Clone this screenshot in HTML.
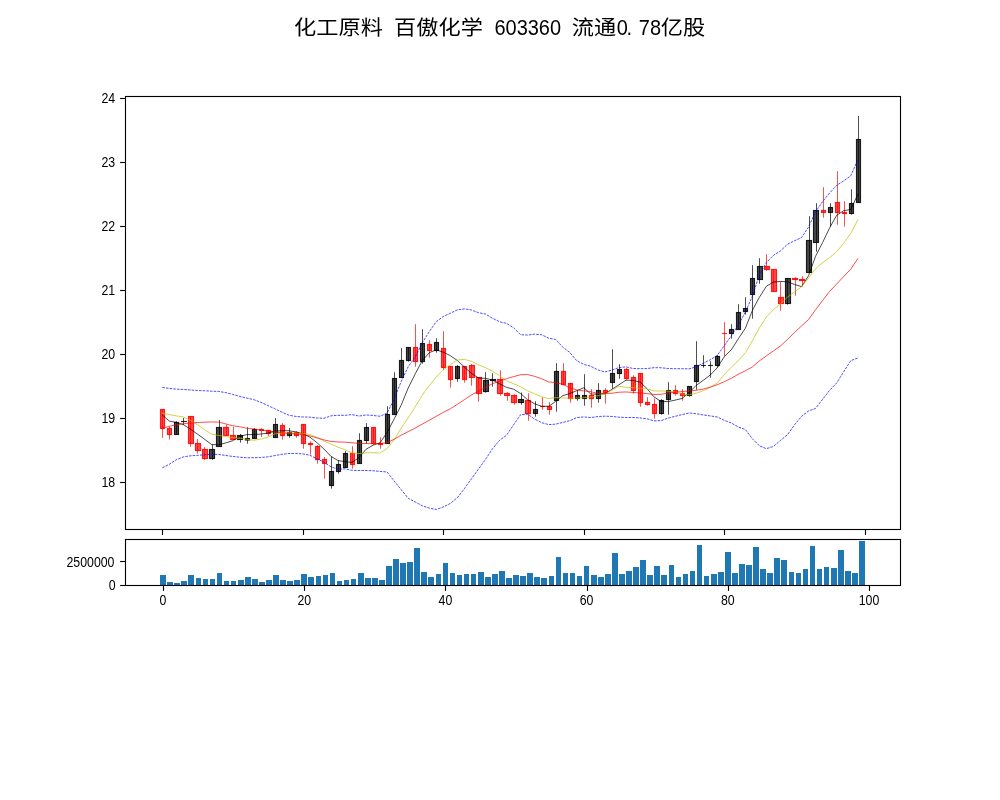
<!DOCTYPE html>
<html lang="zh"><head><meta charset="utf-8"><title>化工原料 百傲化学 603360</title>
<style>html,body{margin:0;padding:0;background:#fff}svg{display:block}text{font-family:"Liberation Sans","Noto Sans CJK SC",sans-serif;fill:#000}.t{font-size:22.2px}.l{font-size:13.89px}</style></head><body>
<svg width="1000" height="800" viewBox="0 0 1000 800">
<rect width="1000" height="800" fill="#fff"/>
<g class="t">
<text x="294.47 316.69 338.91 361.12" y="35.3" transform="translate(-0.4 37) scale(1 0.92) translate(0 -37)">化工原料</text>
<text x="394.46 416.68 438.9 461.12" y="35.3" transform="translate(-0.4 37) scale(1 0.92) translate(0 -37)">百傲化学</text>
<text x="555.56 567.9 580.24 592.59 604.93 617.28" y="35.3" text-anchor="middle" transform="scale(0.9 1)">603360</text>
<text x="572.22 594.44" y="35.3" transform="translate(-0.4 37) scale(1 0.92) translate(0 -37)">流通</text>
<text x="691.34 699.24 716.03 728.38" y="35.3" text-anchor="middle" transform="scale(0.9 1)">0.78</text>
<text x="661.1 683.32" y="35.3" transform="translate(-0.4 37) scale(1 0.92) translate(0 -37)">亿股</text>
</g>
<g stroke-width="1.15" fill-opacity="0.72" stroke-opacity="0.85">
<rect x="160.5" y="409.5" width="4" height="19" fill="#f00" stroke="#f00"/>
<rect x="167.5" y="428.5" width="4" height="6" fill="#f00" stroke="#f00"/>
<rect x="174.5" y="422.5" width="4" height="12" fill="#000" stroke="#000"/>
<line x1="181.05" x2="186.95" y1="421.5" y2="421.5" stroke="#000"/>
<rect x="188.5" y="416.5" width="5" height="27" fill="#f00" stroke="#f00"/>
<rect x="195.5" y="443.5" width="5" height="7" fill="#f00" stroke="#f00"/>
<rect x="202.5" y="449.5" width="5" height="9" fill="#f00" stroke="#f00"/>
<rect x="209.5" y="449.5" width="5" height="9" fill="#000" stroke="#000"/>
<rect x="216.5" y="427.5" width="5" height="19" fill="#000" stroke="#000"/>
<rect x="223.5" y="427.5" width="5" height="8" fill="#f00" stroke="#f00"/>
<rect x="230.5" y="435.5" width="5" height="4" fill="#f00" stroke="#f00"/>
<rect x="237.5" y="435.5" width="5" height="4" fill="#000" stroke="#000"/>
<rect x="245.5" y="438.5" width="4" height="1.5" fill="#000" stroke="#000"/>
<rect x="252.5" y="429.5" width="4" height="9" fill="#000" stroke="#000"/>
<rect x="259.5" y="429.5" width="4" height="1" fill="#f00" stroke="#f00"/>
<rect x="266.5" y="430.5" width="4" height="3" fill="#f00" stroke="#f00"/>
<rect x="273.5" y="424.5" width="4" height="13" fill="#000" stroke="#000"/>
<rect x="280.5" y="425.5" width="4" height="10" fill="#f00" stroke="#f00"/>
<rect x="287.5" y="432.5" width="4" height="3" fill="#000" stroke="#000"/>
<rect x="294.5" y="432.5" width="4" height="3" fill="#f00" stroke="#f00"/>
<rect x="301.5" y="424.5" width="4" height="19" fill="#f00" stroke="#f00"/>
<rect x="308.5" y="443.5" width="4" height="1" fill="#f00" stroke="#f00"/>
<rect x="315.5" y="446.5" width="4" height="13" fill="#f00" stroke="#f00"/>
<rect x="322.5" y="459.5" width="4" height="4" fill="#f00" stroke="#f00"/>
<rect x="329.5" y="471.5" width="4" height="14" fill="#000" stroke="#000"/>
<rect x="336.5" y="464.5" width="4" height="7" fill="#000" stroke="#000"/>
<rect x="343.5" y="453.5" width="4" height="14" fill="#000" stroke="#000"/>
<rect x="350.5" y="453.5" width="4" height="11" fill="#f00" stroke="#f00"/>
<rect x="357.5" y="440.5" width="4" height="23" fill="#000" stroke="#000"/>
<rect x="364.5" y="427.5" width="4" height="13" fill="#000" stroke="#000"/>
<rect x="371.5" y="427.5" width="4" height="16" fill="#f00" stroke="#f00"/>
<rect x="378.5" y="443.5" width="4" height="1" fill="#f00" stroke="#f00"/>
<rect x="385.5" y="414.5" width="4" height="29" fill="#000" stroke="#000"/>
<rect x="392.5" y="378.5" width="4" height="36" fill="#000" stroke="#000"/>
<rect x="399.5" y="360.5" width="4" height="17" fill="#000" stroke="#000"/>
<rect x="406.5" y="347.5" width="4" height="13" fill="#000" stroke="#000"/>
<rect x="413.5" y="347.5" width="4" height="14" fill="#f00" stroke="#f00"/>
<rect x="420.5" y="343.5" width="4" height="18" fill="#000" stroke="#000"/>
<rect x="427.5" y="344.5" width="4" height="6" fill="#f00" stroke="#f00"/>
<rect x="434.5" y="342.5" width="4" height="8" fill="#000" stroke="#000"/>
<rect x="441.5" y="348.5" width="4" height="19" fill="#f00" stroke="#f00"/>
<rect x="448.5" y="366.5" width="4" height="13" fill="#f00" stroke="#f00"/>
<rect x="455.5" y="366.5" width="4" height="12" fill="#000" stroke="#000"/>
<rect x="462.5" y="366.5" width="4" height="13" fill="#f00" stroke="#f00"/>
<rect x="469.5" y="365.5" width="5" height="12" fill="#f00" stroke="#f00"/>
<rect x="476.5" y="377.5" width="5" height="16" fill="#f00" stroke="#f00"/>
<rect x="483.5" y="380.5" width="5" height="11" fill="#000" stroke="#000"/>
<rect x="490.5" y="379.5" width="5" height="1" fill="#000" stroke="#000"/>
<rect x="497.5" y="379.5" width="5" height="14" fill="#f00" stroke="#f00"/>
<rect x="504.5" y="393.5" width="5" height="2" fill="#f00" stroke="#f00"/>
<rect x="511.5" y="395.5" width="5" height="7" fill="#f00" stroke="#f00"/>
<rect x="518.5" y="399.5" width="5" height="3" fill="#000" stroke="#000"/>
<rect x="525.5" y="400.5" width="5" height="13" fill="#f00" stroke="#f00"/>
<rect x="533.5" y="409.5" width="4" height="4" fill="#000" stroke="#000"/>
<line x1="540.05" x2="544.95" y1="406.5" y2="406.5" stroke="#f00"/>
<rect x="547.5" y="406.5" width="4" height="3" fill="#f00" stroke="#f00"/>
<rect x="554.5" y="371.5" width="4" height="29" fill="#000" stroke="#000"/>
<rect x="561.5" y="371.5" width="4" height="13" fill="#f00" stroke="#f00"/>
<rect x="568.5" y="383.5" width="4" height="15" fill="#f00" stroke="#f00"/>
<rect x="575.5" y="395.5" width="4" height="3" fill="#000" stroke="#000"/>
<rect x="582.5" y="395.5" width="4" height="3" fill="#000" stroke="#000"/>
<rect x="589.5" y="395.5" width="4" height="3" fill="#f00" stroke="#f00"/>
<rect x="596.5" y="390.5" width="4" height="8" fill="#000" stroke="#000"/>
<rect x="603.5" y="390.5" width="4" height="2" fill="#f00" stroke="#f00"/>
<rect x="610.5" y="373.5" width="4" height="9" fill="#000" stroke="#000"/>
<rect x="617.5" y="369.5" width="4" height="4" fill="#000" stroke="#000"/>
<rect x="624.5" y="369.5" width="4" height="9" fill="#f00" stroke="#f00"/>
<rect x="631.5" y="377.5" width="4" height="13" fill="#f00" stroke="#f00"/>
<rect x="638.5" y="373.5" width="4" height="29" fill="#f00" stroke="#f00"/>
<rect x="645.5" y="402.5" width="4" height="2" fill="#f00" stroke="#f00"/>
<rect x="652.5" y="404.5" width="4" height="9" fill="#f00" stroke="#f00"/>
<rect x="659.5" y="400.5" width="4" height="13" fill="#000" stroke="#000"/>
<rect x="666.5" y="390.5" width="4" height="9" fill="#000" stroke="#000"/>
<rect x="673.5" y="390.5" width="4" height="3" fill="#f00" stroke="#f00"/>
<rect x="680.5" y="393.5" width="4" height="2" fill="#f00" stroke="#f00"/>
<rect x="687.5" y="386.5" width="4" height="9" fill="#000" stroke="#000"/>
<rect x="694.5" y="365.5" width="4" height="16" fill="#000" stroke="#000"/>
<line x1="701.05" x2="705.95" y1="365.5" y2="365.5" stroke="#000"/>
<line x1="708.05" x2="712.95" y1="365.5" y2="365.5" stroke="#000"/>
<rect x="715.5" y="356.5" width="4" height="9" fill="#000" stroke="#000"/>
<line x1="722.05" x2="726.95" y1="333.5" y2="333.5" stroke="#f00"/>
<rect x="729.5" y="329.5" width="4" height="4" fill="#000" stroke="#000"/>
<rect x="736.5" y="312.5" width="4" height="17" fill="#000" stroke="#000"/>
<rect x="743.5" y="308.5" width="4" height="3" fill="#000" stroke="#000"/>
<rect x="750.5" y="278.5" width="4" height="16" fill="#000" stroke="#000"/>
<rect x="757.5" y="266.5" width="5" height="13" fill="#000" stroke="#000"/>
<rect x="764.5" y="266.5" width="5" height="3" fill="#f00" stroke="#f00"/>
<rect x="771.5" y="269.5" width="5" height="22" fill="#f00" stroke="#f00"/>
<rect x="778.5" y="297.5" width="5" height="6" fill="#f00" stroke="#f00"/>
<rect x="785.5" y="278.5" width="5" height="25" fill="#000" stroke="#000"/>
<rect x="792.5" y="278.5" width="5" height="1" fill="#f00" stroke="#f00"/>
<rect x="799.5" y="279.5" width="5" height="1" fill="#f00" stroke="#f00"/>
<rect x="806.5" y="240.5" width="5" height="32" fill="#000" stroke="#000"/>
<rect x="813.5" y="210.5" width="5" height="32" fill="#000" stroke="#000"/>
<rect x="821.5" y="210.5" width="4" height="2" fill="#f00" stroke="#f00"/>
<rect x="828.5" y="207.5" width="4" height="5" fill="#000" stroke="#000"/>
<rect x="835.5" y="202.5" width="4" height="10" fill="#f00" stroke="#f00"/>
<rect x="842.5" y="212.5" width="4" height="1" fill="#f00" stroke="#f00"/>
<rect x="849.5" y="203.5" width="4" height="10" fill="#000" stroke="#000"/>
<rect x="856.5" y="139.5" width="4" height="63" fill="#000" stroke="#000"/>
</g>
<g stroke-width="0.69">
<line x1="162.5" x2="162.5" y1="409.3" y2="437.8" stroke="#f00"/>
<line x1="169.5" x2="169.5" y1="426.5" y2="439.7" stroke="#f00"/>
<line x1="176.5" x2="176.5" y1="421.2" y2="434.5" stroke="#000"/>
<line x1="183.5" x2="183.5" y1="418" y2="425" stroke="#000"/>
<line x1="190.5" x2="190.5" y1="416.2" y2="446.8" stroke="#f00"/>
<line x1="197.5" x2="197.5" y1="439" y2="453.5" stroke="#f00"/>
<line x1="204.5" x2="204.5" y1="447" y2="459.8" stroke="#f00"/>
<line x1="212.5" x2="212.5" y1="444.5" y2="459.8" stroke="#000"/>
<line x1="219.5" x2="219.5" y1="420" y2="446.5" stroke="#000"/>
<line x1="226.5" x2="226.5" y1="424.5" y2="435.5" stroke="#f00"/>
<line x1="233.5" x2="233.5" y1="427" y2="439.5" stroke="#f00"/>
<line x1="240.5" x2="240.5" y1="434" y2="442.7" stroke="#000"/>
<line x1="247.5" x2="247.5" y1="427.2" y2="443.7" stroke="#000"/>
<line x1="254.5" x2="254.5" y1="428.2" y2="438.5" stroke="#000"/>
<line x1="261.5" x2="261.5" y1="428.2" y2="437" stroke="#f00"/>
<line x1="268.5" x2="268.5" y1="430" y2="436" stroke="#f00"/>
<line x1="275.5" x2="275.5" y1="418" y2="437.5" stroke="#000"/>
<line x1="282.5" x2="282.5" y1="423.2" y2="439.7" stroke="#f00"/>
<line x1="289.5" x2="289.5" y1="428" y2="437.7" stroke="#000"/>
<line x1="296.5" x2="296.5" y1="431.2" y2="437.7" stroke="#f00"/>
<line x1="303.5" x2="303.5" y1="424.3" y2="448.7" stroke="#f00"/>
<line x1="310.5" x2="310.5" y1="441.2" y2="454.7" stroke="#f00"/>
<line x1="317.5" x2="317.5" y1="445" y2="463.7" stroke="#f00"/>
<line x1="324.5" x2="324.5" y1="457" y2="478.7" stroke="#f00"/>
<line x1="331.5" x2="331.5" y1="456.5" y2="488.7" stroke="#000"/>
<line x1="338.5" x2="338.5" y1="460.5" y2="473.7" stroke="#000"/>
<line x1="345.5" x2="345.5" y1="451.2" y2="467.5" stroke="#000"/>
<line x1="352.5" x2="352.5" y1="446.2" y2="468.7" stroke="#f00"/>
<line x1="359.5" x2="359.5" y1="433.2" y2="463.5" stroke="#000"/>
<line x1="366.5" x2="366.5" y1="423.2" y2="443.7" stroke="#000"/>
<line x1="373.5" x2="373.5" y1="427.3" y2="444.7" stroke="#f00"/>
<line x1="380.5" x2="380.5" y1="437.2" y2="448.7" stroke="#f00"/>
<line x1="387.5" x2="387.5" y1="406.2" y2="443.5" stroke="#000"/>
<line x1="394.5" x2="394.5" y1="372.2" y2="414.5" stroke="#000"/>
<line x1="401.5" x2="401.5" y1="348.2" y2="377.5" stroke="#000"/>
<line x1="408.5" x2="408.5" y1="347.3" y2="361.7" stroke="#000"/>
<line x1="415.5" x2="415.5" y1="324.2" y2="366.7" stroke="#f00"/>
<line x1="422.5" x2="422.5" y1="329.2" y2="363.7" stroke="#000"/>
<line x1="429.5" x2="429.5" y1="340.2" y2="357.7" stroke="#f00"/>
<line x1="436.5" x2="436.5" y1="338.2" y2="352.7" stroke="#000"/>
<line x1="443.5" x2="443.5" y1="331.2" y2="370" stroke="#f00"/>
<line x1="450.5" x2="450.5" y1="366.3" y2="387.7" stroke="#f00"/>
<line x1="457.5" x2="457.5" y1="365.2" y2="381.7" stroke="#000"/>
<line x1="464.5" x2="464.5" y1="366.3" y2="382.7" stroke="#f00"/>
<line x1="471.5" x2="471.5" y1="364" y2="385.7" stroke="#f00"/>
<line x1="478.5" x2="478.5" y1="377.3" y2="401.7" stroke="#f00"/>
<line x1="485.5" x2="485.5" y1="372.2" y2="392.7" stroke="#000"/>
<line x1="492.5" x2="492.5" y1="373.2" y2="386.7" stroke="#000"/>
<line x1="500.5" x2="500.5" y1="370.2" y2="395.7" stroke="#f00"/>
<line x1="507.5" x2="507.5" y1="392" y2="400.7" stroke="#f00"/>
<line x1="514.5" x2="514.5" y1="394.2" y2="404.7" stroke="#f00"/>
<line x1="521.5" x2="521.5" y1="392.5" y2="404.7" stroke="#000"/>
<line x1="528.5" x2="528.5" y1="393.2" y2="420.7" stroke="#f00"/>
<line x1="535.5" x2="535.5" y1="401.2" y2="416.7" stroke="#000"/>
<line x1="542.5" x2="542.5" y1="397.2" y2="409.7" stroke="#f00"/>
<line x1="549.5" x2="549.5" y1="402.2" y2="414.7" stroke="#f00"/>
<line x1="556.5" x2="556.5" y1="363.2" y2="411.7" stroke="#000"/>
<line x1="563.5" x2="563.5" y1="363.2" y2="384.5" stroke="#f00"/>
<line x1="570.5" x2="570.5" y1="383.3" y2="402.7" stroke="#f00"/>
<line x1="577.5" x2="577.5" y1="390.2" y2="400.7" stroke="#000"/>
<line x1="584.5" x2="584.5" y1="374.2" y2="405.7" stroke="#000"/>
<line x1="591.5" x2="591.5" y1="389.2" y2="407.7" stroke="#f00"/>
<line x1="598.5" x2="598.5" y1="383.2" y2="402.7" stroke="#000"/>
<line x1="605.5" x2="605.5" y1="388.2" y2="403.7" stroke="#f00"/>
<line x1="612.5" x2="612.5" y1="349.2" y2="388.7" stroke="#000"/>
<line x1="619.5" x2="619.5" y1="364.2" y2="378.7" stroke="#000"/>
<line x1="626.5" x2="626.5" y1="368.2" y2="379.7" stroke="#f00"/>
<line x1="633.5" x2="633.5" y1="375.2" y2="393.7" stroke="#f00"/>
<line x1="640.5" x2="640.5" y1="373.3" y2="406.7" stroke="#f00"/>
<line x1="647.5" x2="647.5" y1="397.2" y2="405.7" stroke="#f00"/>
<line x1="654.5" x2="654.5" y1="398.5" y2="418.7" stroke="#f00"/>
<line x1="661.5" x2="661.5" y1="399.2" y2="414.7" stroke="#000"/>
<line x1="668.5" x2="668.5" y1="382.2" y2="414.7" stroke="#000"/>
<line x1="675.5" x2="675.5" y1="385.2" y2="395.7" stroke="#f00"/>
<line x1="682.5" x2="682.5" y1="389.2" y2="400.7" stroke="#f00"/>
<line x1="689.5" x2="689.5" y1="386.3" y2="396.7" stroke="#000"/>
<line x1="696.5" x2="696.5" y1="341.2" y2="389.7" stroke="#000"/>
<line x1="703.5" x2="703.5" y1="355.2" y2="367.7" stroke="#000"/>
<line x1="710.5" x2="710.5" y1="361.2" y2="377.7" stroke="#000"/>
<line x1="717.5" x2="717.5" y1="355" y2="367.5" stroke="#000"/>
<line x1="724.5" x2="724.5" y1="322.2" y2="356.2" stroke="#f00"/>
<line x1="731.5" x2="731.5" y1="324.2" y2="338.7" stroke="#000"/>
<line x1="738.5" x2="738.5" y1="304.2" y2="329.5" stroke="#000"/>
<line x1="745.5" x2="745.5" y1="297.2" y2="314.7" stroke="#000"/>
<line x1="752.5" x2="752.5" y1="265.2" y2="318.7" stroke="#000"/>
<line x1="759.5" x2="759.5" y1="258.2" y2="283.7" stroke="#000"/>
<line x1="766.5" x2="766.5" y1="254.2" y2="270.7" stroke="#f00"/>
<line x1="773.5" x2="773.5" y1="269.3" y2="291.5" stroke="#f00"/>
<line x1="780.5" x2="780.5" y1="281.5" y2="310.7" stroke="#f00"/>
<line x1="787.5" x2="787.5" y1="278.3" y2="304.7" stroke="#000"/>
<line x1="795.5" x2="795.5" y1="277.2" y2="295.7" stroke="#f00"/>
<line x1="802.5" x2="802.5" y1="276.2" y2="286.7" stroke="#f00"/>
<line x1="809.5" x2="809.5" y1="216.2" y2="272.5" stroke="#000"/>
<line x1="816.5" x2="816.5" y1="203.2" y2="251.7" stroke="#000"/>
<line x1="823.5" x2="823.5" y1="187.2" y2="217.7" stroke="#f00"/>
<line x1="830.5" x2="830.5" y1="203.2" y2="226.7" stroke="#000"/>
<line x1="837.5" x2="837.5" y1="171.2" y2="224.7" stroke="#f00"/>
<line x1="844.5" x2="844.5" y1="201.2" y2="226.7" stroke="#f00"/>
<line x1="851.5" x2="851.5" y1="189.2" y2="214.7" stroke="#000"/>
<line x1="858.5" x2="858.5" y1="116" y2="202.5" stroke="#000"/>
</g>
<polyline points="162.34,415.09 169.36,421.11 176.39,422.32 183.41,424.68 190.44,429.14 197.46,434.14 204.49,439.14 211.51,444.49 218.53,444.84 225.56,442.96 232.58,440.8 239.61,436.42 246.63,434.61 253.65,434.54 260.68,434.07 267.7,433.13 274.73,431.24 281.75,430.69 288.78,430.71 295.8,431.86 302.82,433.75 309.85,437.11 316.87,442.54 323.9,448.99 330.92,456.32 337.95,460.52 344.97,461.68 351.99,462.36 359.02,457.57 366.04,449.28 373.07,445.21 380.09,442.75 387.11,432.46 394.14,419 401.16,405.21 408.19,388 415.21,373.91 422.24,360.75 429.26,352.68 436.28,349.82 443.31,352.25 450.33,355.64 457.36,360.54 464.38,367.06 471.4,373.39 478.43,377.96 485.45,378.38 492.48,379.93 499.5,383.75 506.53,387.36 513.55,389.18 520.57,393.57 527.6,399.72 534.62,403.84 541.65,406.21 548.67,406.36 555.7,401.39 562.72,395.66 569.74,393.5 576.77,390.66 583.79,387.79 590.82,393.99 597.84,394.25 604.86,393.82 611.89,389.32 618.91,384.81 625.94,380.18 632.96,380.36 639.99,382.02 647.01,388.63 654.03,396.89 661.06,401.5 668.08,401.61 675.11,400.14 682.13,398.43 689.16,392.5 696.18,385.36 703.2,380.39 710.23,375.03 717.25,367.77 724.28,356.71 731.3,349.78 738.32,338.78 745.35,328.25 752.37,310.43 759.4,297.25 766.42,286.28 773.45,282.04 780.47,281.46 787.49,281.82 794.52,284.41 801.54,286.62 808.57,275.66 815.59,256.18 822.61,242.53 829.64,227.85 836.66,215.32 843.69,210.64 850.71,209.57 857.74,194.57" fill="none" stroke="#000" stroke-width="0.7" stroke-linejoin="round" stroke-linecap="square"/>
<polyline points="162.34,413.2 169.36,414.61 176.39,415.91 183.41,416.94 190.44,420.5 197.46,424.64 204.49,429.7 211.51,434.11 218.53,435.43 225.56,436.41 232.58,437.76 239.61,438.23 246.63,439.23 253.65,440.39 260.68,439.14 267.7,437.23 274.73,433.86 281.75,433.01 288.78,432.79 295.8,432.95 302.82,433.63 309.85,434.5 316.87,437.24 323.9,440.98 330.92,444.09 337.95,447.11 344.97,449.79 351.99,452.96 359.02,453.55 366.04,452.81 373.07,452.7 380.09,453.03 387.11,448.64 394.14,439.82 401.16,428.25 408.19,417.78 415.21,406.82 422.24,395.18 429.26,385.61 436.28,377 443.31,369.88 450.33,364.5 457.36,360.04 464.38,359.36 471.4,361.25 478.43,364.79 485.45,367.75 492.48,371.18 499.5,375.64 506.53,380.79 513.55,383.79 520.57,386.72 527.6,390.79 534.62,393.79 541.65,396.89 548.67,398.56 555.7,397.57 562.72,397.98 569.74,398.32 576.77,398.02 583.79,397.75 590.82,397.11 597.84,395.63 604.86,393.96 611.89,390.26 618.91,386.23 625.94,387.27 632.96,387.66 639.99,388.14 647.01,388.86 654.03,390.89 661.06,390.99 668.08,391.14 675.11,391.86 682.13,393.95 689.16,394.82 696.18,393.18 703.2,390.75 710.23,387.32 717.25,383.11 724.28,374.52 731.3,367.18 738.32,360.57 745.35,352.85 752.37,340.93 759.4,327.75 766.42,317.02 773.45,309.61 780.47,303.98 787.49,297.18 794.52,291.87 801.54,286.93 808.57,278.15 815.59,268.73 822.61,262.66 829.64,257.64 836.66,251.61 843.69,243.21 850.71,233.46 857.74,219.96" fill="none" stroke="#bfbf00" stroke-width="0.7" stroke-linejoin="round" stroke-linecap="square"/>
<polyline points="162.34,428.13 169.36,426.31 176.39,424.77 183.41,423.75 190.44,423.04 197.46,422.52 204.49,422.21 211.51,421.99 218.53,422.07 225.56,423.87 232.58,425.73 239.61,426.69 246.63,428.25 253.65,428.93 260.68,429.93 267.7,430.93 274.73,431.94 281.75,432.75 288.78,433.46 295.8,433.95 302.82,434.61 309.85,435.86 316.87,437.86 323.9,439.89 330.92,441.46 337.95,441.99 344.97,442.16 351.99,442.75 359.02,443.5 366.04,443.49 373.07,443.71 380.09,443.57 387.11,442.75 394.14,439.28 401.16,435.26 408.19,431.55 415.21,428.08 422.24,424.07 429.26,420.28 436.28,416.28 443.31,412.25 450.33,408.82 457.36,404.33 464.38,399.63 471.4,394.96 478.43,391.28 485.45,387.25 492.48,383.68 499.5,381.18 506.53,378.64 513.55,376.63 520.57,374.7 527.6,374.57 534.62,376.32 541.65,378.79 548.67,381.94 555.7,382.68 562.72,384.25 569.74,387.86 576.77,389.93 583.79,390.94 590.82,391.68 597.84,393.5 604.86,393.52 611.89,393.27 618.91,392.21 625.94,391.96 632.96,392.46 639.99,392.95 647.01,393.64 654.03,394.52 661.06,394.29 668.08,393.06 675.11,392.25 682.13,391.54 689.16,391.06 696.18,390.29 703.2,389.14 710.23,387.18 717.25,384.71 724.28,381.75 731.3,378.28 738.32,374.25 745.35,370.78 752.37,366.93 759.4,360.86 766.42,355.86 773.45,350.86 780.47,345.96 787.49,339.5 794.52,332.46 801.54,325.98 808.57,319.5 815.59,309.65 822.61,300.43 829.64,291.53 836.66,284.03 843.69,276.53 850.71,269.25 857.74,258.75" fill="none" stroke="#f00" stroke-width="0.7" stroke-linejoin="round" stroke-linecap="square"/>
<polyline points="162.34,387.43 169.36,388.45 176.39,389.18 183.41,389.46 190.44,389.96 197.46,390.48 204.49,390.77 211.51,391.18 218.53,391.41 225.56,392.57 232.58,394.36 239.61,396.38 246.63,398.09 253.65,399.61 260.68,402.27 267.7,405.47 274.73,408.77 281.75,412.09 288.78,415.11 295.8,416.46 302.82,416.99 309.85,417.14 316.87,417.99 323.9,418.37 330.92,415.84 337.95,415.3 344.97,415.34 351.99,414.61 359.02,416.07 366.04,414.96 373.07,415.46 380.09,416.28 387.11,413 394.14,399.25 401.16,381.53 408.19,366.71 415.21,357 422.24,342.78 429.26,331.7 436.28,321.55 443.31,316.53 450.33,313.23 457.36,309.86 464.38,308.91 471.4,310.01 478.43,312.69 485.45,314 492.48,318.27 499.5,321.66 506.53,323.38 513.55,327.74 520.57,334.68 527.6,335.06 534.62,334.14 541.65,334.77 548.67,338.18 555.7,339.47 562.72,347.11 569.74,352.43 576.77,360.75 583.79,364.36 590.82,366.25 597.84,369.87 604.86,371.93 611.89,370.18 618.91,367.54 625.94,366.89 632.96,368.49 639.99,368.71 647.01,368.56 654.03,367.69 661.06,367.75 668.08,368.49 675.11,368.7 682.13,368.7 689.16,368.85 696.18,366.86 703.2,363.25 710.23,359.84 717.25,355.39 724.28,345.71 731.3,335.78 738.32,324.93 745.35,312.16 752.37,296.17 759.4,274.85 766.42,262.5 773.45,255.32 780.47,250.96 787.49,244.25 794.52,240.76 801.54,237.57 808.57,227.07 815.59,211.71 822.61,201.61 829.64,193.03 836.66,185.32 843.69,180.91 850.71,175.82 857.74,160.12" fill="none" stroke="#00f" stroke-width="0.7" stroke-linejoin="round" stroke-dasharray="2.57 1.11"/>
<polyline points="162.34,467.75 169.36,464.32 176.39,459.69 183.41,456.87 190.44,455.84 197.46,455.34 204.49,454.84 211.51,454.29 218.53,454.43 225.56,455.43 232.58,456.45 239.61,457.16 246.63,457.81 253.65,457.71 260.68,457.55 267.7,456.89 274.73,455.59 281.75,454.36 288.78,453.5 295.8,453.46 302.82,453.89 309.85,455.25 316.87,458.75 323.9,462.18 330.92,466.84 337.95,469.21 344.97,468.91 351.99,470.29 359.02,470.5 366.04,470.48 373.07,470.75 380.09,471.42 387.11,471.96 394.14,480.99 401.16,489.61 408.19,498.24 415.21,501.93 422.24,505.84 429.26,508.12 436.28,509.49 443.31,506.96 450.33,503.43 457.36,497.64 464.38,488.7 471.4,478.89 478.43,469.2 485.45,459.45 492.48,448.78 499.5,440.39 506.53,435.23 513.55,424.88 520.57,414.71 527.6,414.16 534.62,419.05 541.65,422.67 548.67,424.64 555.7,424.12 562.72,422.43 569.74,420.71 576.77,417.54 583.79,416.96 590.82,417.57 597.84,416.52 604.86,416.18 611.89,416.45 618.91,417.18 625.94,417.5 632.96,417.46 639.99,417.93 647.01,418.87 654.03,420.82 661.06,420.68 668.08,418.13 675.11,416.32 682.13,414.61 689.16,412.94 696.18,413.71 703.2,414.93 710.23,415.91 717.25,416.97 724.28,420.3 731.3,423.02 738.32,426.99 745.35,429.56 752.37,438.72 759.4,445.82 766.42,448.68 773.45,446.43 780.47,440.43 787.49,434.7 794.52,424.78 801.54,416.38 808.57,410.91 815.59,408.34 822.61,399.34 829.64,390.23 836.66,383 843.69,371.75 850.71,360.69 857.74,357.99" fill="none" stroke="#00f" stroke-width="0.7" stroke-linejoin="round" stroke-dasharray="2.57 1.11"/>
<rect x="125.5" y="96.5" width="775" height="433" fill="none" stroke="#000" stroke-width="1.11"/>
<g stroke="#000" stroke-width="1.11">
<line x1="162.5" x2="162.5" y1="530" y2="534.9"/>
<line x1="303.5" x2="303.5" y1="530" y2="534.9"/>
<line x1="443.5" x2="443.5" y1="530" y2="534.9"/>
<line x1="584.5" x2="584.5" y1="530" y2="534.9"/>
<line x1="724.5" x2="724.5" y1="530" y2="534.9"/>
<line x1="865.5" x2="865.5" y1="530" y2="534.9"/>
<line x1="120.1" x2="125" y1="482.5" y2="482.5"/>
<line x1="120.1" x2="125" y1="418.5" y2="418.5"/>
<line x1="120.1" x2="125" y1="354.5" y2="354.5"/>
<line x1="120.1" x2="125" y1="290.5" y2="290.5"/>
<line x1="120.1" x2="125" y1="226.5" y2="226.5"/>
<line x1="120.1" x2="125" y1="162.5" y2="162.5"/>
<line x1="120.1" x2="125" y1="98.5" y2="98.5"/>
</g>
<text class="l" x="101.38" y="487.1" textLength="13.72" lengthAdjust="spacingAndGlyphs">18</text>
<text class="l" x="101.38" y="423.1" textLength="13.72" lengthAdjust="spacingAndGlyphs">19</text>
<text class="l" x="101.38" y="359.1" textLength="13.72" lengthAdjust="spacingAndGlyphs">20</text>
<text class="l" x="101.38" y="295.1" textLength="13.72" lengthAdjust="spacingAndGlyphs">21</text>
<text class="l" x="101.38" y="231.1" textLength="13.72" lengthAdjust="spacingAndGlyphs">22</text>
<text class="l" x="101.38" y="167.1" textLength="13.72" lengthAdjust="spacingAndGlyphs">23</text>
<text class="l" x="101.38" y="103.1" textLength="13.72" lengthAdjust="spacingAndGlyphs">24</text>
<g fill="#1f77b4" shape-rendering="crispEdges">
<rect x="160" y="575" width="6" height="10.5"/>
<rect x="167" y="582" width="6" height="3.5"/>
<rect x="174" y="583" width="6" height="2.5"/>
<rect x="181" y="581" width="6" height="4.5"/>
<rect x="188" y="575" width="6" height="10.5"/>
<rect x="196" y="578" width="5" height="7.5"/>
<rect x="203" y="579" width="5" height="6.5"/>
<rect x="210" y="579" width="5" height="6.5"/>
<rect x="217" y="573" width="5" height="12.5"/>
<rect x="224" y="581" width="5" height="4.5"/>
<rect x="231" y="581" width="5" height="4.5"/>
<rect x="238" y="580" width="6" height="5.5"/>
<rect x="245" y="577" width="6" height="8.5"/>
<rect x="252" y="579" width="6" height="6.5"/>
<rect x="259" y="582" width="6" height="3.5"/>
<rect x="266" y="580" width="6" height="5.5"/>
<rect x="273" y="575" width="6" height="10.5"/>
<rect x="280" y="580" width="6" height="5.5"/>
<rect x="287" y="581" width="6" height="4.5"/>
<rect x="294" y="580" width="6" height="5.5"/>
<rect x="301" y="574" width="6" height="11.5"/>
<rect x="308" y="577" width="6" height="8.5"/>
<rect x="316" y="576" width="5" height="9.5"/>
<rect x="323" y="575" width="5" height="10.5"/>
<rect x="330" y="573" width="5" height="12.5"/>
<rect x="337" y="581" width="5" height="4.5"/>
<rect x="344" y="580" width="5" height="5.5"/>
<rect x="351" y="579" width="5" height="6.5"/>
<rect x="358" y="573" width="6" height="12.5"/>
<rect x="365" y="578" width="6" height="7.5"/>
<rect x="372" y="578" width="6" height="7.5"/>
<rect x="379" y="580" width="6" height="5.5"/>
<rect x="386" y="566" width="6" height="19.5"/>
<rect x="393" y="559" width="6" height="26.5"/>
<rect x="400" y="563" width="6" height="22.5"/>
<rect x="407" y="562" width="6" height="23.5"/>
<rect x="414" y="548" width="6" height="37.5"/>
<rect x="421" y="572" width="6" height="13.5"/>
<rect x="428" y="577" width="6" height="8.5"/>
<rect x="436" y="574" width="5" height="11.5"/>
<rect x="443" y="563" width="5" height="22.5"/>
<rect x="450" y="573" width="5" height="12.5"/>
<rect x="457" y="575" width="5" height="10.5"/>
<rect x="464" y="574" width="5" height="11.5"/>
<rect x="471" y="574" width="5" height="11.5"/>
<rect x="478" y="572" width="6" height="13.5"/>
<rect x="485" y="577" width="6" height="8.5"/>
<rect x="492" y="574" width="6" height="11.5"/>
<rect x="499" y="571" width="6" height="14.5"/>
<rect x="506" y="578" width="6" height="7.5"/>
<rect x="513" y="575" width="6" height="10.5"/>
<rect x="520" y="576" width="6" height="9.5"/>
<rect x="527" y="573" width="6" height="12.5"/>
<rect x="534" y="577" width="6" height="8.5"/>
<rect x="541" y="578" width="6" height="7.5"/>
<rect x="549" y="576" width="5" height="9.5"/>
<rect x="556" y="557" width="5" height="28.5"/>
<rect x="563" y="573" width="5" height="12.5"/>
<rect x="570" y="573" width="5" height="12.5"/>
<rect x="577" y="576" width="5" height="9.5"/>
<rect x="584" y="566" width="5" height="19.5"/>
<rect x="591" y="575" width="6" height="10.5"/>
<rect x="598" y="577" width="6" height="8.5"/>
<rect x="605" y="574" width="6" height="11.5"/>
<rect x="612" y="553" width="6" height="32.5"/>
<rect x="619" y="574" width="6" height="11.5"/>
<rect x="626" y="571" width="6" height="14.5"/>
<rect x="633" y="567" width="6" height="18.5"/>
<rect x="640" y="560" width="6" height="25.5"/>
<rect x="647" y="575" width="6" height="10.5"/>
<rect x="654" y="566" width="6" height="19.5"/>
<rect x="661" y="575" width="6" height="10.5"/>
<rect x="669" y="565" width="5" height="20.5"/>
<rect x="676" y="577" width="5" height="8.5"/>
<rect x="683" y="574" width="5" height="11.5"/>
<rect x="690" y="571" width="5" height="14.5"/>
<rect x="697" y="545" width="5" height="40.5"/>
<rect x="704" y="576" width="5" height="9.5"/>
<rect x="711" y="574" width="6" height="11.5"/>
<rect x="718" y="572" width="6" height="13.5"/>
<rect x="725" y="552" width="6" height="33.5"/>
<rect x="732" y="573" width="6" height="12.5"/>
<rect x="739" y="564" width="6" height="21.5"/>
<rect x="746" y="565" width="6" height="20.5"/>
<rect x="753" y="547" width="6" height="38.5"/>
<rect x="760" y="569" width="6" height="16.5"/>
<rect x="767" y="573" width="6" height="12.5"/>
<rect x="774" y="558" width="6" height="27.5"/>
<rect x="781" y="560" width="6" height="25.5"/>
<rect x="789" y="572" width="5" height="13.5"/>
<rect x="796" y="573" width="5" height="12.5"/>
<rect x="803" y="569" width="5" height="16.5"/>
<rect x="810" y="546" width="5" height="39.5"/>
<rect x="817" y="569" width="5" height="16.5"/>
<rect x="824" y="567" width="5" height="18.5"/>
<rect x="831" y="568" width="6" height="17.5"/>
<rect x="838" y="550" width="6" height="35.5"/>
<rect x="845" y="571" width="6" height="14.5"/>
<rect x="852" y="573" width="6" height="12.5"/>
<rect x="859" y="541" width="6" height="44.5"/>
</g>
<rect x="125.5" y="539.5" width="775" height="46" fill="none" stroke="#000" stroke-width="1.11"/>
<g stroke="#000" stroke-width="1.11">
<line x1="163.5" x2="163.5" y1="586" y2="590.9"/>
<line x1="304.5" x2="304.5" y1="586" y2="590.9"/>
<line x1="445.5" x2="445.5" y1="586" y2="590.9"/>
<line x1="587.5" x2="587.5" y1="586" y2="590.9"/>
<line x1="728.5" x2="728.5" y1="586" y2="590.9"/>
<line x1="869.5" x2="869.5" y1="586" y2="590.9"/>
<line x1="120.1" x2="125" y1="585.5" y2="585.5"/>
<line x1="120.1" x2="125" y1="561.5" y2="561.5"/>
</g>
<text class="l" x="159.62" y="605.3" textLength="6.86" lengthAdjust="spacingAndGlyphs">0</text>
<text class="l" x="297.38" y="605.3" textLength="13.72" lengthAdjust="spacingAndGlyphs">20</text>
<text class="l" x="438.57" y="605.3" textLength="13.72" lengthAdjust="spacingAndGlyphs">40</text>
<text class="l" x="579.77" y="605.3" textLength="13.72" lengthAdjust="spacingAndGlyphs">60</text>
<text class="l" x="720.96" y="605.3" textLength="13.72" lengthAdjust="spacingAndGlyphs">80</text>
<text class="l" x="858.72" y="605.3" textLength="20.58" lengthAdjust="spacingAndGlyphs">100</text>
<text class="l" x="108.84" y="590.2" textLength="6.86" lengthAdjust="spacingAndGlyphs">0</text>
<text class="l" x="66.48" y="567.3" textLength="48.02" lengthAdjust="spacingAndGlyphs">2500000</text>
</svg></body></html>
